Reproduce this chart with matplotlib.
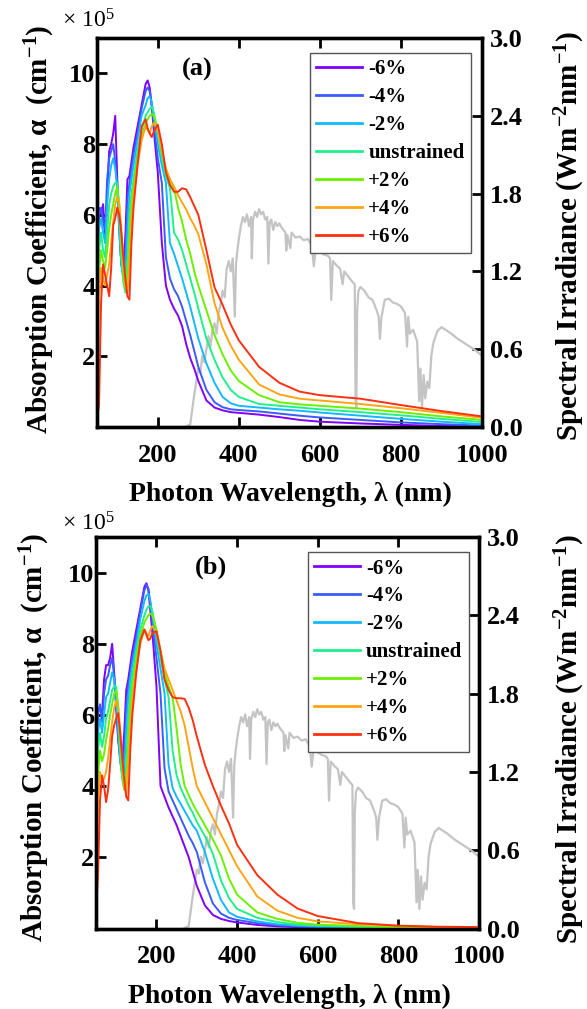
import matplotlib
matplotlib.use('Agg')
import matplotlib.pyplot as plt
from matplotlib.ticker import FormatStrFormatter

plt.rcParams['font.family'] = ['Liberation Serif', 'DejaVu Serif']
plt.rcParams['mathtext.default'] = 'regular'

# photon wavelength grid (nm), shared by every absorption curve
wavelength = [50, 55, 60, 65, 70, 75, 80, 85, 90, 95,
              100, 105, 110, 115, 120, 125, 130, 135, 140,
              150, 160, 170, 175, 180, 185, 190,
              200, 210, 220, 230, 240, 250, 260, 270, 280, 290,
              300, 320, 340, 360, 380, 400,
              450, 500, 550, 600,
              700, 800, 900, 1000]

# panel (a): absorption coefficient (x 1e5 cm^-1)
a_m6 = [5.2, 6.2, 6.0, 6.3, 5.3, 6.5, 7.8, 8.0, 8.3, 8.8,
        7.0, 5.8, 4.6, 4.5, 5.4, 7.0, 7.1, 7.5, 7.9,
        8.5, 9.1, 9.7, 9.8, 9.6, 9.1, 8.4,
        7.2, 5.2, 4.0, 3.6, 3.35, 3.15, 2.85, 2.35, 1.95, 1.65,
        1.3, 0.75, 0.55, 0.47, 0.42, 0.4,
        0.35, 0.28, 0.2, 0.15,
        0.1, 0.06, 0.03, 0.01]
a_m4 = [4.6, 6.0, 6.2, 5.8, 5.6, 7.0, 7.6, 7.8, 8.0, 7.5,
        6.8, 5.5, 4.6, 4.3, 4.8, 6.4, 6.9, 7.3, 7.7,
        8.3, 9.0, 9.5, 9.6, 9.5, 9.1, 8.6,
        7.6, 6.9, 4.8, 4.2, 3.9, 3.7, 3.4, 3.0, 2.6, 2.15,
        1.7, 1.05, 0.7, 0.56, 0.5, 0.48,
        0.44, 0.38, 0.32, 0.27,
        0.2, 0.13, 0.08, 0.04]
a_m2 = [3.8, 5.6, 5.9, 5.5, 5.2, 6.3, 7.0, 7.4, 7.6, 7.3,
        6.8, 5.6, 4.6, 4.2, 4.3, 5.6, 6.6, 7.0, 7.4,
        8.1, 8.8, 9.1, 9.3, 9.35, 9.2, 8.8,
        8.0, 7.4, 6.9, 5.2, 4.9, 4.55, 4.2, 3.8, 3.4, 2.95,
        2.5, 1.8, 1.25, 0.85, 0.67, 0.6,
        0.55, 0.5, 0.46, 0.41,
        0.32, 0.23, 0.15, 0.08]
a_un = [3.0, 5.0, 5.5, 5.0, 4.8, 5.5, 6.3, 6.6, 6.8, 6.9,
        6.9, 6.0, 4.8, 4.1, 3.8, 4.6, 6.0, 6.6, 7.0,
        7.8, 8.4, 8.8, 8.9, 9.0, 9.05, 8.9,
        8.3, 7.6, 7.1, 6.75, 5.5, 5.3, 5.0, 4.6, 4.2, 3.8,
        3.35, 2.5, 1.9, 1.4, 1.05, 0.85,
        0.65, 0.6, 0.55, 0.5,
        0.42, 0.33, 0.23, 0.14]
a_p2 = [2.2, 4.4, 5.0, 4.7, 4.5, 5.0, 5.6, 6.0, 6.3, 6.6,
        6.8, 6.3, 5.2, 4.3, 3.9, 4.1, 5.4, 6.3, 6.8,
        7.6, 8.2, 8.6, 8.7, 8.8, 8.85, 8.8,
        8.4, 7.8, 7.3, 7.0, 6.75, 6.2, 5.8, 5.3, 4.9, 4.4,
        4.0, 3.3, 2.6, 2.05, 1.6, 1.3,
        0.9, 0.7, 0.64, 0.6,
        0.52, 0.42, 0.3, 0.2]
a_p4 = [1.4, 3.6, 4.5, 4.2, 4.0, 4.3, 4.6, 5.2, 5.8, 6.3,
        6.5, 6.3, 5.6, 4.6, 4.0, 3.8, 4.6, 5.8, 6.5,
        7.4, 8.1, 8.5, 8.4, 8.3, 8.5, 8.6,
        8.4, 7.8, 7.3, 7.0, 6.8, 6.55, 6.35, 6.15, 5.9, 5.7,
        5.45, 4.6, 3.5, 2.8, 2.3, 1.9,
        1.2, 0.92, 0.8, 0.75,
        0.65, 0.53, 0.4, 0.26]
a_p6 = [0.3, 0.6, 3.5, 4.6, 4.3, 4.0, 3.7, 4.5, 5.7, 5.9,
        6.2, 6.0, 5.5, 4.8, 4.2, 3.7, 3.6, 5.2, 6.2,
        7.4, 8.5, 8.7, 8.45, 8.3, 8.2, 8.35,
        8.55, 8.0, 7.2, 6.85, 6.65, 6.65, 6.75, 6.72, 6.5, 6.25,
        6.0, 5.0, 3.95, 3.45, 2.9, 2.45,
        1.7, 1.25, 1.0, 0.9,
        0.8, 0.62, 0.45, 0.3]

# panel (b)
b_m6 = [5.0, 6.2, 6.2, 6.0, 7.0, 7.4, 7.4, 7.6, 8.0, 7.2,
        6.2, 5.3, 4.8, 4.7, 5.5, 6.7, 7.0, 7.4, 7.8,
        8.4, 9.0, 9.6, 9.7, 9.5, 8.9, 8.3,
        6.8, 4.0, 3.7, 3.4, 3.15, 2.9, 2.6, 2.3, 2.0, 1.6,
        1.2, 0.65, 0.38, 0.27, 0.21, 0.17,
        0.1, 0.06, 0.04, 0.03,
        0.02, 0.01, 0.01, 0.0]
b_m4 = [4.2, 6.0, 6.3, 5.8, 6.6, 7.0, 7.1, 7.4, 7.6, 7.1,
        6.3, 5.4, 4.7, 4.4, 4.9, 6.2, 6.8, 7.2, 7.6,
        8.2, 8.9, 9.5, 9.65, 9.55, 9.1, 8.6,
        7.6, 6.6, 4.5, 3.85, 3.6, 3.35, 3.1, 2.85, 2.6, 2.4,
        2.15, 1.3, 0.7, 0.42, 0.3, 0.24,
        0.15, 0.09, 0.06, 0.04,
        0.03, 0.02, 0.01, 0.01]
b_m2 = [3.4, 5.5, 5.9, 5.5, 6.0, 6.5, 6.6, 6.9, 7.2, 7.0,
        6.5, 5.6, 4.7, 4.3, 4.4, 5.6, 6.5, 7.0, 7.4,
        8.0, 8.7, 9.2, 9.35, 9.4, 9.2, 8.8,
        8.0, 7.3, 6.6, 4.6, 3.95, 3.7, 3.5, 3.3, 3.1, 2.9,
        2.75, 2.15, 1.4, 0.8, 0.45, 0.33,
        0.2, 0.12, 0.08, 0.06,
        0.04, 0.02, 0.01, 0.01]
b_un = [2.7, 5.0, 5.5, 5.1, 5.4, 5.9, 6.1, 6.4, 6.7, 6.8,
        6.8, 6.0, 4.9, 4.2, 3.9, 4.6, 5.9, 6.6, 7.1,
        7.8, 8.4, 8.8, 8.95, 9.05, 9.05, 8.9,
        8.3, 7.6, 7.0, 6.5, 5.0, 4.3, 3.95, 3.7, 3.45, 3.25,
        3.0, 2.6, 2.1, 1.35, 0.85, 0.55,
        0.3, 0.18, 0.11, 0.08,
        0.05, 0.03, 0.02, 0.01]
b_p2 = [2.0, 4.3, 5.0, 4.7, 4.9, 5.3, 5.6, 6.0, 6.3, 6.6,
        6.7, 6.3, 5.3, 4.4, 3.9, 4.1, 5.3, 6.2, 6.8,
        7.6, 8.2, 8.6, 8.7, 8.8, 8.85, 8.8,
        8.4, 7.8, 7.2, 6.8, 6.5, 5.6, 4.6, 4.0, 3.75, 3.5,
        3.3, 2.9, 2.5, 2.05, 1.4, 0.95,
        0.45, 0.27, 0.16, 0.11,
        0.07, 0.04, 0.02, 0.01]
b_p4 = [1.2, 3.5, 4.4, 4.2, 4.2, 4.4, 4.8, 5.3, 5.8, 6.2,
        6.4, 6.2, 5.6, 4.7, 4.0, 3.8, 4.6, 5.7, 6.4,
        7.3, 8.0, 8.4, 8.3, 8.2, 8.4, 8.5,
        8.3, 7.8, 7.3, 7.0, 6.7, 6.4, 6.1, 5.7, 5.1, 4.5,
        4.0, 3.55, 3.1, 2.65, 2.2, 1.75,
        0.9, 0.5, 0.3, 0.2,
        0.12, 0.07, 0.04, 0.02]
b_p6 = [0.5, 1.5, 3.6, 4.3, 4.0, 3.55, 3.9, 4.6, 5.4, 5.7,
        5.9, 6.05, 5.5, 4.8, 4.2, 3.7, 3.6, 5.0, 6.0,
        7.2, 8.1, 8.4, 8.25, 8.1, 8.15, 8.3,
        8.35, 7.8, 7.0, 6.7, 6.5, 6.47, 6.47, 6.45, 6.2, 5.85,
        5.4, 4.6, 4.0, 3.45, 2.95, 2.35,
        1.5, 0.95, 0.56, 0.35,
        0.15, 0.08, 0.05, 0.04]

# solar spectral irradiance (W m^-2 nm^-1)
sun_wl = [268, 280, 290, 295, 300, 305, 310, 315, 320, 325, 330, 335, 340, 345,
          350, 355, 360, 365, 370, 375, 380, 385, 390, 393, 396, 400, 405, 410,
          415, 420, 425, 430, 432, 435, 440, 445, 450, 455, 460, 465, 470, 473,
          476, 480, 485, 490, 495, 500, 505, 510, 515, 517, 520, 527, 530, 540,
          550, 560, 570, 580, 585, 590, 600, 610, 620, 625, 628, 632, 640, 650,
          656, 660, 670, 680, 686, 688, 690, 692, 695, 700, 710, 720, 730, 740,
          745, 748, 752, 760, 770, 780, 790, 800, 810, 815, 818, 822, 830, 840,
          845, 848, 852, 856, 860, 865, 870, 875, 880, 890, 900, 920, 940, 960,
          980, 1000]
sun_irr = [0.0, 0.02, 0.25, 0.35, 0.45, 0.42, 0.55, 0.5, 0.6, 0.7, 0.62, 0.75, 0.8, 0.72,
           0.88, 0.95, 1.05, 1.0, 1.22, 1.28, 1.2, 1.3, 0.85, 1.25, 1.35, 1.45, 1.55, 1.62,
           1.58, 1.64, 1.55, 1.62, 1.3, 1.6, 1.66, 1.62, 1.68, 1.64, 1.66, 1.6, 1.62, 1.26,
           1.58, 1.6, 1.52, 1.58, 1.55, 1.57, 1.54, 1.52, 1.5, 1.36, 1.48, 1.38, 1.5, 1.46,
           1.47, 1.44, 1.45, 1.4, 1.24, 1.38, 1.35, 1.33, 1.32, 1.3, 0.98, 1.28, 1.25, 1.22,
           1.1, 1.2, 1.16, 1.12, 1.1, 0.2, 0.15, 0.9, 1.05, 1.08, 1.05, 1.0, 0.98, 0.9,
           0.85, 0.68, 0.85, 0.98, 0.99, 0.96, 0.95, 0.93, 0.88, 0.62, 0.85, 0.72, 0.75, 0.66,
           0.2, 0.45, 0.15, 0.4, 0.22, 0.35, 0.3, 0.55, 0.65, 0.74, 0.77, 0.73, 0.68, 0.64,
           0.6, 0.55]

strain_labels = ['-6%', '-4%', '-2%', 'unstrained', '+2%', '+4%', '+6%']
strain_colors = ['#8000ff', '#3a5cff', '#14b8ff', '#1ef08c', '#6cf000', '#ffa514', '#ff3010']

fig = plt.figure(figsize=(5.87, 10.09), dpi=100)


def draw_panel(rect, curves, tag, tag_xy, mult_y):
    ax = fig.add_axes(rect)
    ax2 = ax.twinx()
    ax2.plot(sun_wl, sun_irr, color='#c4c4c4', lw=1.6)
    for vals, lab, col in zip(curves, strain_labels, strain_colors):
        ax.plot(wavelength, vals, color=col, lw=1.4, label=lab)

    ax.set_zorder(ax2.get_zorder() + 1)
    ax.patch.set_visible(False)
    ax.set_axisbelow(True)

    ax.set_xlim(50, 1000)
    ax.set_ylim(0, 11)
    ax.set_xticks([200, 400, 600, 800, 1000])
    ax.set_yticks([2, 4, 6, 8, 10])
    ax2.set_ylim(0, 3.0)
    ax2.set_yticks([0, 0.6, 1.2, 1.8, 2.4, 3.0])
    ax2.yaxis.set_major_formatter(FormatStrFormatter('%.1f'))

    ax.tick_params(axis='x', direction='in', top=True, length=7, width=2, pad=12, labelsize=19)
    ax.tick_params(axis='y', direction='in', right=False, length=7, width=2, pad=1, labelsize=19)
    ax2.tick_params(axis='y', direction='in', length=7, width=2, pad=6, labelsize=19)
    for a in (ax, ax2):
        for sp in a.spines.values():
            sp.set_linewidth(2.4)
        for t in a.get_xticklabels() + a.get_yticklabels():
            t.set_fontweight('bold')

    leg = ax.legend(loc='upper left', bbox_to_anchor=(0.553, 0.961), borderaxespad=0,
                    prop={'size': 15, 'weight': 'bold'}, fancybox=False, framealpha=1,
                    edgecolor='#555555', handlelength=2.2, handletextpad=0.3,
                    labelspacing=0.38, borderpad=0.3)
    leg.get_frame().set_linewidth(1.0)
    for h in leg.get_lines():
        h.set_linewidth(2)

    ax.text(tag_xy[0], tag_xy[1], tag, transform=ax.transAxes, ha='center', va='center',
            fontsize=19, fontweight='bold')
    fig.text(62 / 587, mult_y, '\u00d7 10$^{5}$', fontsize=17, ha='left', va='center')
    return ax


draw_panel([97 / 587, 1 - 427 / 1009, 385 / 587, 389 / 1009],
           [a_m6, a_m4, a_m2, a_un, a_p2, a_p4, a_p6], '(a)', (0.26, 0.918), 1 - 21 / 1009)
draw_panel([96 / 587, 1 - 928.5 / 1009, 383 / 587, 391.5 / 1009],
           [b_m6, b_m4, b_m2, b_un, b_p2, b_p4, b_p6], '(b)', (0.3, 0.923), 1 - 524 / 1009)

ylab_l = 'Absorption Coefficient, \u03b1  (cm$^{-1}$)'
ylab_r = 'Spectral Irradiance (Wm$^{-2}$nm$^{-1}$)'
xlab = 'Photon Wavelength, \u03bb (nm)'
fig.text(40 / 587, 1 - 229 / 1009, ylab_l, rotation=90, ha='center', va='center',
         fontsize=21, fontweight='bold')
fig.text(35 / 587, 1 - 737 / 1009, ylab_l, rotation=90, ha='center', va='center',
         fontsize=21, fontweight='bold')
fig.text(570 / 587, 1 - 236 / 1009, ylab_r, rotation=90, ha='center', va='center',
         fontsize=21, fontweight='bold')
fig.text(570 / 587, 1 - 739 / 1009, ylab_r, rotation=90, ha='center', va='center',
         fontsize=21, fontweight='bold')
fig.text(290 / 587, 1 - 494 / 1009, xlab, ha='center', va='center',
         fontsize=20, fontweight='bold')
fig.text(289 / 587, 1 - 996 / 1009, xlab, ha='center', va='center',
         fontsize=20, fontweight='bold')

fig.savefig('out.png', dpi=100)
